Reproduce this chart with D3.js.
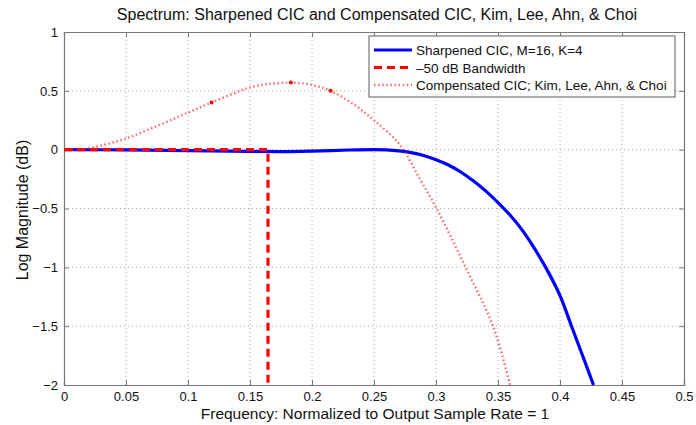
<!DOCTYPE html>
<html>
<head>
<meta charset="utf-8">
<script src="https://cdn.jsdelivr.net/npm/d3@7"></script>
<style>
  body { margin: 0; background: #fff; }
  svg { font-family: "Liberation Sans", Arial, sans-serif; }
</style>
</head>
<body>
<svg id="chart" width="696" height="425"></svg>
<script>
// values
var xTicks = [0, 0.05, 0.1, 0.15, 0.2, 0.25, 0.3, 0.35, 0.4, 0.45, 0.5];
var yTicks = [1, 0.5, 0, -0.5, -1, -1.5, -2];

// sharpened CIC, M=16, K=4
var sharpFreq = [0, 0.05, 0.1, 0.15, 0.18, 0.2, 0.23, 0.25, 0.26, 0.27, 0.28, 0.29, 0.30, 0.31, 0.32, 0.33, 0.34, 0.35, 0.36, 0.37, 0.38, 0.39, 0.40, 0.41, 0.42, 0.427];
var sharpDb   = [0, -0.002, -0.008, -0.015, -0.016, -0.012, -0.003, 0.0, -0.002, -0.01, -0.025, -0.05, -0.085, -0.13, -0.19, -0.265, -0.35, -0.45, -0.56, -0.69, -0.85, -1.03, -1.24, -1.52, -1.8, -2.0];

// -50 dB bandwidth marker
var bwFreq = [0, 0.1645, 0.1645];
var bwDb   = [0, 0, -2];

// compensated CIC; Kim, Lee, Ahn, & Choi
var compFreq = [0, 0.013, 0.024, 0.0505, 0.077, 0.100, 0.119, 0.142, 0.150, 0.165, 0.183, 0.200, 0.215, 0.233, 0.25, 0.271, 0.2865, 0.3005, 0.3234, 0.346, 0.3597];
var compDb   = [0, 0.002, 0.02, 0.097, 0.21, 0.315, 0.40, 0.50, 0.53, 0.558, 0.57, 0.55, 0.50, 0.39, 0.25, 0.04, -0.24, -0.50, -0.99, -1.50, -2.0];

// highlighted points on the compensated curve
var markFreq = [0.119, 0.183, 0.215];
var markDb   = [0.40, 0.57, 0.50];

var legendLabels = ["Sharpened CIC, M=16, K=4", "\u201350 dB Bandwidth", "Compensated CIC; Kim, Lee, Ahn, & Choi"];

var svg = d3.select("#chart");
var plotL = 64, plotR = 684, plotT = 32, plotB = 385;

var x = d3.scaleLinear().domain([0, 0.5]).range([plotL, plotR]);
var y = d3.scaleLinear().domain([-2, 1]).range([plotB, plotT]);

var axisColor = "#777";
var fmt = function(v) { return v < 0 ? "\u2212" + Math.abs(v) : String(v); };

// grid
var grid = svg.append("g");
grid.selectAll(".gx").data(xTicks.slice(1, -1)).enter().append("line")
  .attr("x1", d => x(d)).attr("x2", d => x(d))
  .attr("y1", plotT).attr("y2", plotB)
  .attr("stroke", "#aaa").attr("stroke-width", 1).attr("stroke-dasharray", "1,3");
grid.selectAll(".gy").data(yTicks.slice(1, -1)).enter().append("line")
  .attr("x1", plotL).attr("x2", plotR)
  .attr("y1", d => y(d)).attr("y2", d => y(d))
  .attr("stroke", "#aaa").attr("stroke-width", 1).attr("stroke-dasharray", "1,3");

// axes (MATLAB style box, ticks inside)
var xAxis = svg.append("g").attr("transform", "translate(0," + plotB + ")")
  .call(d3.axisBottom(x).tickValues(xTicks).tickSize(-5).tickPadding(7).tickFormat(fmt));
var xAxisTop = svg.append("g").attr("transform", "translate(0," + plotT + ")")
  .call(d3.axisTop(x).tickValues(xTicks).tickSize(-5).tickFormat(""));
var yAxis = svg.append("g").attr("transform", "translate(" + plotL + ",0)")
  .call(d3.axisLeft(y).tickValues(yTicks).tickSize(-5).tickPadding(6).tickFormat(fmt));
var yAxisR = svg.append("g").attr("transform", "translate(" + plotR + ",0)")
  .call(d3.axisRight(y).tickValues(yTicks).tickSize(-5).tickFormat(""));

[xAxis, xAxisTop, yAxis, yAxisR].forEach(function(g) {
  g.select(".domain").attr("stroke", axisColor).attr("stroke-width", 1.2);
  g.selectAll(".tick line").attr("stroke", axisColor);
  g.selectAll(".tick text").attr("fill", "#111").attr("font-size", 13)
    .attr("font-family", "Liberation Sans, Arial, sans-serif");
});

// curves
var plot = svg.append("g");
var smooth = d3.line().x(d => x(d[0])).y(d => y(d[1])).curve(d3.curveCatmullRom.alpha(0.5));

plot.append("path")
  .datum(sharpFreq.map((f, i) => [f, sharpDb[i]]))
  .attr("d", smooth).attr("fill", "none")
  .attr("stroke", "#0000ff").attr("stroke-width", 3.2);

plot.append("path")
  .datum(compFreq.map((f, i) => [f, compDb[i]]))
  .attr("d", smooth)
  .attr("fill", "none")
  .attr("stroke", "#ff2a2a").attr("stroke-width", 2.4).attr("stroke-opacity", 0.7)
  .attr("stroke-dasharray", "1.5,2.6");

plot.append("path")
  .datum(bwFreq.map((f, i) => [f, bwDb[i]]))
  .attr("d", d3.line().x(d => x(d[0])).y(d => y(d[1])))
  .attr("fill", "none")
  .attr("stroke", "#ff0000").attr("stroke-width", 3.2)
  .attr("stroke-dasharray", "8,5");

plot.selectAll(".mark").data(markFreq.map((f, i) => [f, markDb[i]])).enter().append("circle")
  .attr("cx", d => x(d[0])).attr("cy", d => y(d[1])).attr("r", 2)
  .attr("fill", "#ff0000");

// legend
var lg = svg.append("g").attr("transform", "translate(369,36)");
lg.append("rect").attr("width", 306).attr("height", 61)
  .attr("fill", "#fff").attr("stroke", "#777").attr("stroke-width", 1.2);
var styles = [
  { color: "#0000ff", width: 3.2, dash: null, op: 1 },
  { color: "#ff0000", width: 3.2, dash: "8,5", op: 1 },
  { color: "#ff2a2a", width: 2.4, dash: "1.5,2.6", op: 0.7 }
];
legendLabels.forEach(function(t, i) {
  var yy = 14 + i * 17.5;
  lg.append("line").attr("x1", 5).attr("x2", 43).attr("y1", yy).attr("y2", yy)
    .attr("stroke", styles[i].color).attr("stroke-width", styles[i].width)
    .attr("stroke-opacity", styles[i].op)
    .attr("stroke-dasharray", styles[i].dash);
  lg.append("text").attr("x", 47).attr("y", yy + 5).attr("font-size", 13.5)
    .attr("fill", "#111").text(t);
});

// titles
svg.append("text").attr("x", 377).attr("y", 20).attr("text-anchor", "middle")
  .attr("font-size", 16).attr("fill", "#111")
  .text("Spectrum: Sharpened CIC and Compensated CIC, Kim, Lee, Ahn, & Choi");
svg.append("text").attr("x", 375).attr("y", 419).attr("text-anchor", "middle")
  .attr("font-size", 15.5).attr("fill", "#111")
  .text("Frequency: Normalized to Output Sample Rate = 1");
svg.append("text").attr("transform", "translate(28,210) rotate(-90)")
  .attr("text-anchor", "middle").attr("font-size", 16).attr("fill", "#111")
  .text("Log Magnitude (dB)");
</script>
</body>
</html>
